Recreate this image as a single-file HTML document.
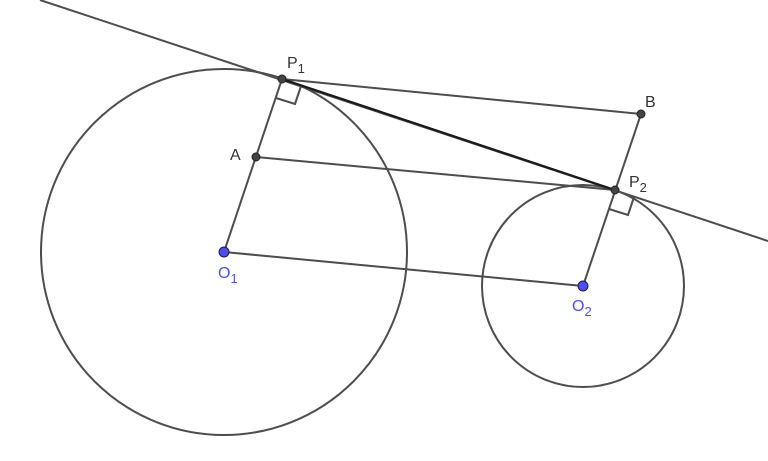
<!DOCTYPE html>
<html><head><style>body{margin:0;background:#fff}svg{display:block}</style></head><body>
<svg width="768" height="461" viewBox="0 0 768 461" xmlns="http://www.w3.org/2000/svg" font-family="Liberation Sans, sans-serif">
<g fill="none" stroke="#4d4d4d" stroke-width="2">
<circle cx="224" cy="252" r="183"/>
<circle cx="583" cy="286" r="101"/>
<line x1="40" y1="0" x2="768" y2="241"/>
<line x1="282" y1="79" x2="641" y2="114"/>
<line x1="256" y1="157" x2="615" y2="190"/>
<line x1="224" y1="252" x2="583" y2="286"/>
<line x1="224" y1="252" x2="282" y2="79"/>
<line x1="583" y1="286" x2="641" y2="114"/>
<polyline points="276,98 295,104 301,86"/>
<polyline points="609,209 628,215 634,197"/>
</g>
<line x1="282" y1="79" x2="615" y2="190" stroke="#1a1a1a" stroke-width="2.2"/>
<g stroke="#222" stroke-width="1">
<circle cx="282" cy="79" r="4" fill="#444"/>
<circle cx="256" cy="157" r="4" fill="#444"/>
<circle cx="615" cy="190" r="4" fill="#444"/>
<circle cx="641" cy="114" r="4" fill="#444"/>
<circle cx="224" cy="252" r="5" fill="#4d4dff"/>
<circle cx="583" cy="286" r="5" fill="#4d4dff"/>
</g>
<g font-size="16" fill="#333">
<text x="287" y="68">P<tspan font-size="13" dy="5">1</tspan></text>
<text x="230" y="160">A</text>
<text x="645" y="107">B</text>
<text x="629" y="187">P<tspan font-size="13" dy="5">2</tspan></text>
</g>
<g font-size="16" fill="#4d4dff">
<text x="218" y="278">O<tspan font-size="13" dy="5">1</tspan></text>
<text x="572" y="311">O<tspan font-size="13" dy="5">2</tspan></text>
</g>
</svg>
</body></html>
